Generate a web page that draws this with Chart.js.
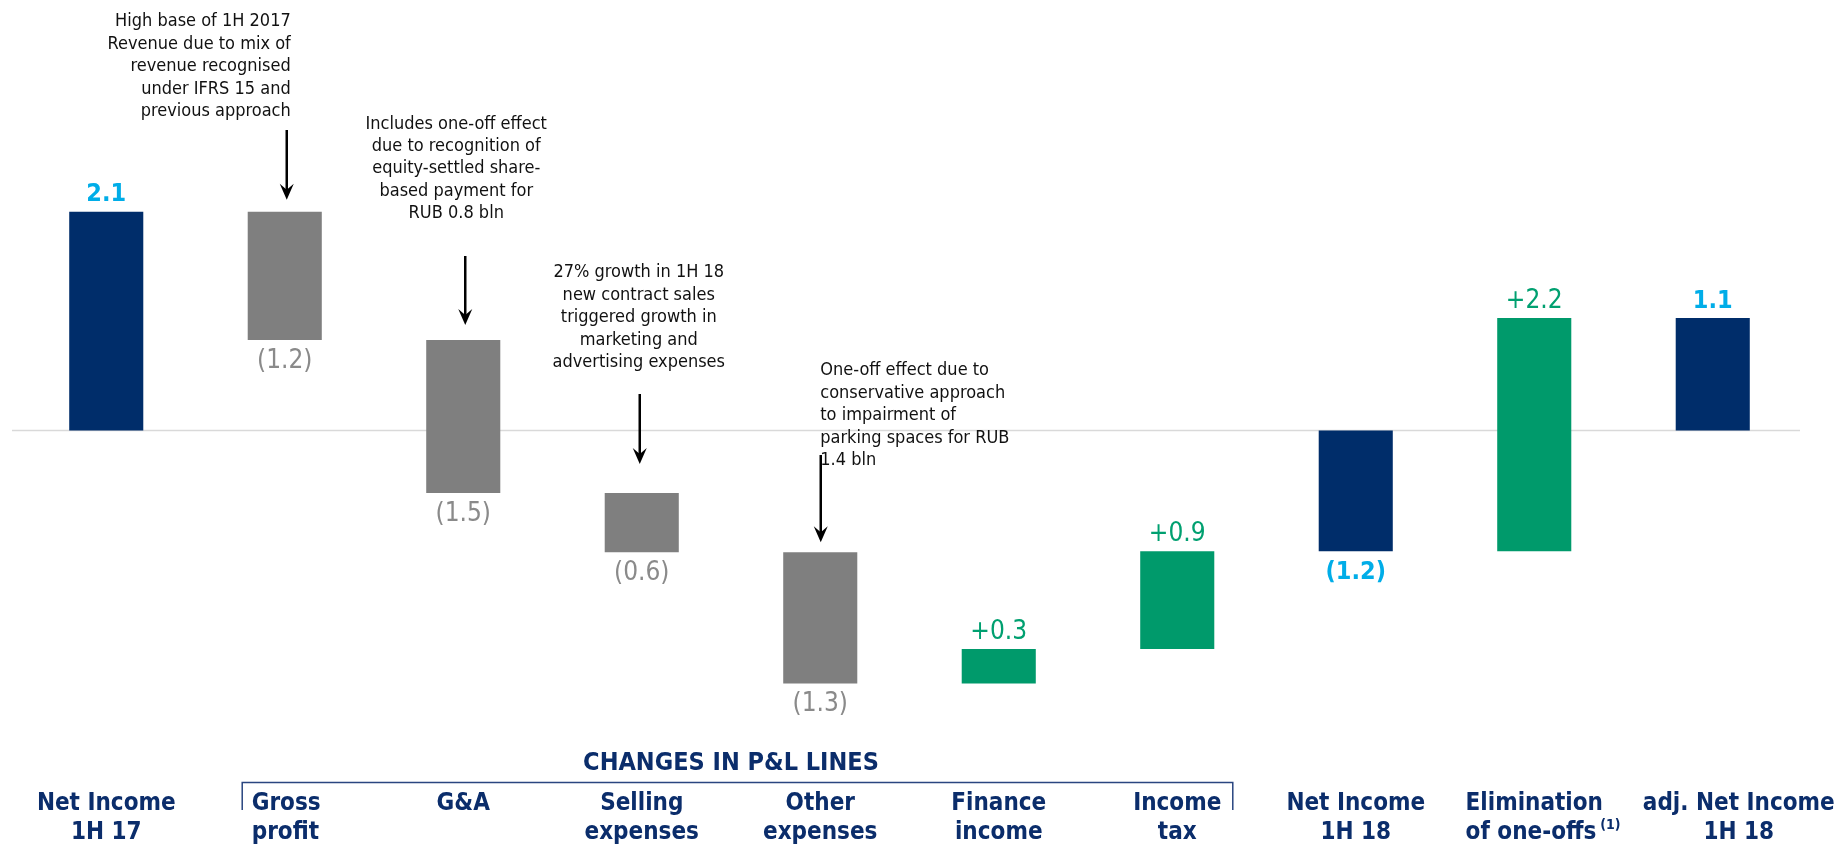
<!DOCTYPE html>
<html>
<head>
<meta charset="utf-8">
<script src="https://cdn.jsdelivr.net/npm/chart.js@4/dist/chart.umd.min.js"></script>
<style>
  html, body { margin: 0; padding: 0; background: #ffffff; }
  #wrap { width: 1842px; height: 845px; position: relative; }
</style>
</head>
<body>
<div id="wrap"><canvas id="c" width="1842" height="845"></canvas></div>
<script>
// Net income bridge, RUB bln
const categories = [
  ['Net Income', '1H 17'],
  ['Gross', 'profit'],
  ['G&A'],
  ['Selling', 'expenses'],
  ['Other', 'expenses'],
  ['Finance', 'income'],
  ['Income', 'tax'],
  ['Net Income', '1H 18'],
  ['Elimination', 'of one-offs'],
  ['adj. Net Income', '1H 18']
];
// totals are measured from zero, deltas from the running total
const values = [2.10, -1.23, -1.47, -0.57, -1.26, 0.33, 0.94, -1.16, 2.24, 1.08];
const kinds  = ['total', 'delta', 'delta', 'delta', 'delta', 'delta', 'delta', 'total', 'delta', 'total'];

const groupTitle = 'CHANGES IN P&L LINES';
const groupFirst = 1, groupLast = 6;
const footnoteMark = '(1)';

const notes = [
  { bar: 1, lines: ['High base of 1H 2017', 'Revenue due to mix of', 'revenue recognised', 'under IFRS 15 and', 'previous approach'] },
  { bar: 2, lines: ['Includes one-off effect', 'due to recognition of', 'equity-settled share-', 'based payment for', 'RUB 0.8 bln'] },
  { bar: 3, lines: ['27% growth in 1H 18', 'new contract sales', 'triggered growth in', 'marketing and', 'advertising expenses'] },
  { bar: 4, lines: ['One-off effect due to', 'conservative approach', 'to impairment of', 'parking spaces for RUB', '1.4 bln'] }
];

// visual styling
const NAVY = '#002D6A', GREY = '#7F7F7F', GREEN = '#009A6B', CYAN = '#00ADE8';
const LABEL_NAVY = '#0B2D6B', GREY_TEXT = '#8A8A8A', GREEN_TEXT = '#00A070';
const FAMILY = '"DejaVu Sans Condensed", "DejaVu Sans", sans-serif';

// floating ranges for the waterfall
let running = 0;
const ranges = values.map((v, i) => {
  if (kinds[i] === 'total') { running = v; return [0, v]; }
  const r = [running, running + v];
  running += v;
  return r;
});
const colors = values.map((v, i) => kinds[i] === 'total' ? NAVY : (v < 0 ? GREY : GREEN));

function fmt(v, kind) {
  const a = Math.abs(v).toFixed(1);
  if (v < 0) return '(' + a + ')';
  return kind === 'delta' ? '+' + a : a;
}

function setFont(ctx, weight, size) {
  ctx.font = weight + ' ' + size + 'px ' + FAMILY;
  try { ctx.fontStretch = 'condensed'; } catch (e) {}
}

function arrow(ctx, x, y0, y1) {
  ctx.save();
  ctx.strokeStyle = '#000'; ctx.fillStyle = '#000'; ctx.lineWidth = 2.5;
  ctx.beginPath(); ctx.moveTo(x, y0); ctx.lineTo(x, y1 - 8); ctx.stroke();
  ctx.beginPath();
  ctx.moveTo(x, y1);
  ctx.lineTo(x - 7, y1 - 16);
  ctx.lineTo(x, y1 - 10);
  ctx.lineTo(x + 7, y1 - 16);
  ctx.closePath(); ctx.fill();
  ctx.restore();
}

const decor = {
  id: 'waterfallDecor',
  beforeDatasetsDraw(chart) {
    const ctx = chart.ctx, y = chart.scales.y;
    const y0 = Math.round(y.getPixelForValue(0)) + 0.5;
    ctx.save();
    ctx.strokeStyle = '#D9D9D9'; ctx.lineWidth = 1.5;
    ctx.beginPath(); ctx.moveTo(12, y0); ctx.lineTo(1800, y0); ctx.stroke();
    ctx.restore();
  },
  afterDatasetsDraw(chart) {
    const ctx = chart.ctx;
    const bars = chart.getDatasetMeta(0).data;
    ctx.save();

    // value labels
    ctx.textAlign = 'center'; ctx.textBaseline = 'middle';
    bars.forEach((b, i) => {
      const top = Math.min(b.y, b.base), bot = Math.max(b.y, b.base);
      const v = values[i], k = kinds[i];
      if (k === 'total') { setFont(ctx, 'bold', 25); ctx.fillStyle = CYAN; }
      else { setFont(ctx, 'normal', 26); ctx.fillStyle = v < 0 ? GREY_TEXT : GREEN_TEXT; }
      const ty = v < 0 ? bot + 21 : top - 17;
      ctx.fillText(fmt(v, k), b.x, ty);
    });

    // category labels under the chart
    const row1 = 804, row2 = 833;
    setFont(ctx, 'bold', 24);
    ctx.fillStyle = LABEL_NAVY;
    bars.forEach((b, i) => {
      const lines = categories[i];
      let x = b.x, align = 'center';
      if (i === 1) { x = b.x - b.width / 2 + 4; align = 'left'; }
      if (i === 9) { x = b.x + 26; }
      if (i === 8) {
        // second line is left aligned to the first, with a footnote mark
        const w1 = ctx.measureText(lines[0]).width;
        const left = b.x - w1 / 2;
        ctx.textAlign = 'left';
        ctx.fillText(lines[0], left, row1);
        ctx.fillText(lines[1], left, row2);
        const w2 = ctx.measureText(lines[1]).width;
        setFont(ctx, 'bold', 14);
        ctx.fillText(footnoteMark, left + w2 + 4, row2 - 8);
        setFont(ctx, 'bold', 24);
        return;
      }
      ctx.textAlign = align;
      lines.forEach((t, j) => ctx.fillText(t, x, j === 0 ? row1 : row2));
    });

    // bracket over the P&L line items
    const bl = bars[groupFirst].x - bars[groupFirst].width / 2 - 6;
    const br = bars[groupLast].x + bars[groupLast].width / 2 + 18;
    ctx.strokeStyle = '#2A4680'; ctx.lineWidth = 1.5;
    ctx.beginPath();
    ctx.moveTo(bl + 0.5, 810); ctx.lineTo(bl + 0.5, 782.5);
    ctx.lineTo(br + 0.5, 782.5); ctx.lineTo(br + 0.5, 810);
    ctx.stroke();
    setFont(ctx, 'bold', 25);
    ctx.textAlign = 'center';
    ctx.fillText(groupTitle, (bars[groupFirst].x + bars[groupLast].x) / 2, 763);

    // commentary with arrows
    setFont(ctx, 'normal', 18);
    ctx.fillStyle = '#111111';
    const lh = 22.4;
    const n1 = notes[0], b1 = bars[n1.bar];
    ctx.textAlign = 'right';
    n1.lines.forEach((t, j) => ctx.fillText(t, b1.x + 6, 21.7 + j * lh));
    arrow(ctx, b1.x + 2, 130, Math.min(b1.y, b1.base) - 12);

    const n2 = notes[1], b2 = bars[n2.bar];
    ctx.textAlign = 'center';
    n2.lines.forEach((t, j) => ctx.fillText(t, b2.x - 7, 124 + j * lh));
    arrow(ctx, b2.x + 2, 256, Math.min(b2.y, b2.base) - 15);

    const n3 = notes[2], b3 = bars[n3.bar];
    n3.lines.forEach((t, j) => ctx.fillText(t, b3.x - 3, 272.7 + j * lh));
    arrow(ctx, b3.x - 2, 394, Math.min(b3.y, b3.base) - 29);

    const n4 = notes[3], b4 = bars[n4.bar];
    ctx.textAlign = 'left';
    n4.lines.forEach((t, j) => ctx.fillText(t, b4.x, 370.7 + j * lh));
    arrow(ctx, b4.x + 0.5, 455, Math.min(b4.y, b4.base) - 10);

    ctx.restore();
  }
};

new Chart(document.getElementById('c'), {
  type: 'bar',
  data: {
    labels: categories.map(c => c.join(' ')),
    datasets: [{
      data: ranges,
      backgroundColor: colors,
      borderWidth: 0,
      barPercentage: 0.415,
      categoryPercentage: 1.0
    }]
  },
  options: {
    responsive: false,
    animation: false,
    layout: { padding: { left: 17, right: 40, top: 14, bottom: 123 } },
    plugins: { legend: { display: false }, tooltip: { enabled: false } },
    scales: {
      x: { display: false, offset: true },
      y: { display: false, min: -2.8, max: 4.0 }
    }
  },
  plugins: [decor]
});
</script>
</body>
</html>
